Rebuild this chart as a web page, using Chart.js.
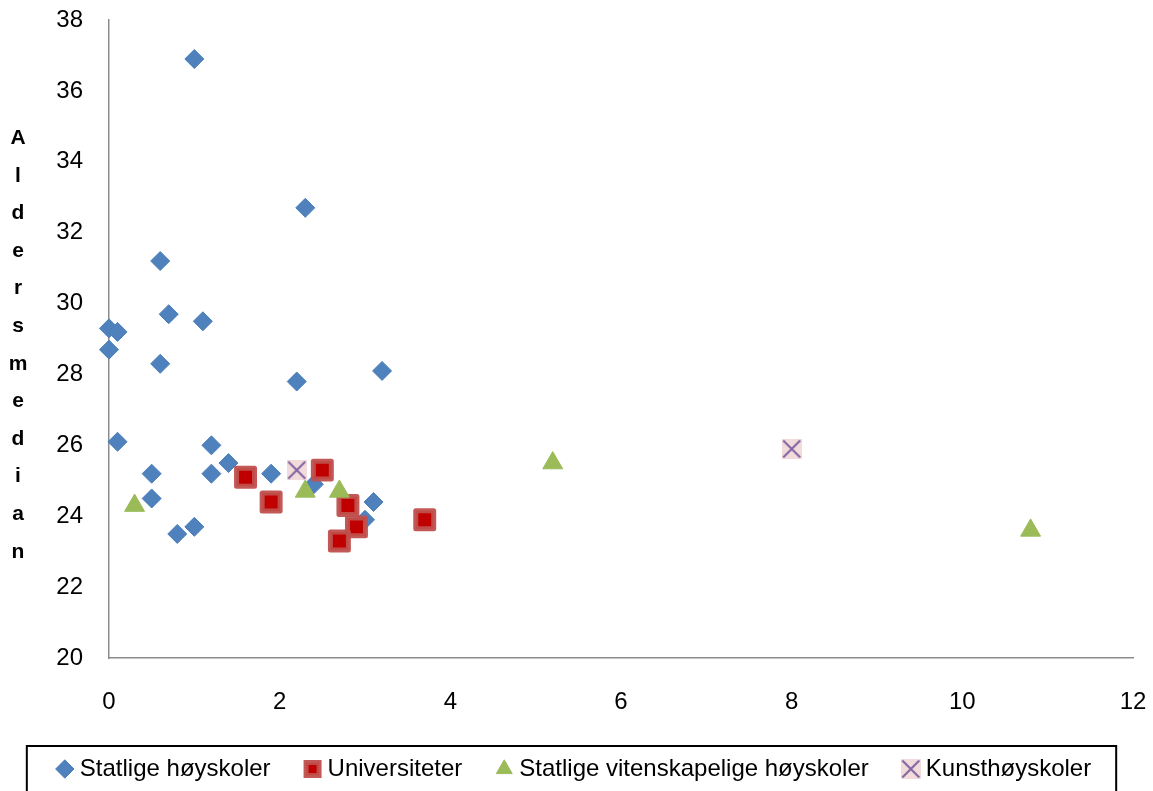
<!DOCTYPE html>
<html>
<head>
<meta charset="utf-8">
<script src="https://cdn.jsdelivr.net/npm/chart.js@4.4.0/dist/chart.umd.min.js"></script>
<style>
  html, body { margin: 0; padding: 0; background: #fff; }
</style>
</head>
<body>
<canvas id="chart" width="1153" height="791"></canvas>
<script>
// values
const seriesNames = ['Statlige høyskoler', 'Universiteter', 'Statlige vitenskapelige høyskoler', 'Kunsthøyskoler'];
const axisTitle = 'Aldersmedian';
const xTicks = [0, 2, 4, 6, 8, 10, 12];
const yTicks = [20, 22, 24, 26, 28, 30, 32, 34, 36, 38];

const statligeX = [1.0, 2.3, 0.6, 0.7, 1.1, 0.0, 0.1, 0.0, 0.6, 2.2, 3.2, 0.1, 1.2, 1.4, 0.5, 1.2, 1.9, 0.5, 0.8, 1.0, 2.4, 3.1, 3.0];
const statligeY = [36.9, 32.7, 31.2, 29.7, 29.5, 29.3, 29.2, 28.7, 28.3, 27.8, 28.1, 26.1, 26.0, 25.5, 25.2, 25.2, 25.2, 24.5, 23.5, 23.7, 24.9, 24.4, 23.9];

const universitetX = [1.6, 1.9, 2.5, 2.8, 2.9, 2.7, 3.7];
const universitetY = [25.1, 24.4, 25.3, 24.3, 23.7, 23.3, 23.9];

const vitenskapX = [0.3, 2.3, 2.7, 5.2, 10.8];
const vitenskapY = [24.3, 24.7, 24.7, 25.5, 23.6];

const kunstX = [2.2, 8.0];
const kunstY = [25.3, 25.9];

const toPoints = (xs, ys) => xs.map((x, i) => ({ x: x, y: ys[i] }));

// pink square with a purple X, like the Excel marker
const makeCross = () => {
    const c = document.createElement('canvas');
    c.width = 20;
    c.height = 20;
    const g = c.getContext('2d');
    g.fillStyle = '#f2dcdb';
    g.fillRect(0, 0, 20, 20);
    g.strokeStyle = '#8064a2';
    g.lineWidth = 2;
    g.beginPath();
    g.moveTo(1.5, 1.5); g.lineTo(18.5, 18.5);
    g.moveTo(18.5, 1.5); g.lineTo(1.5, 18.5);
    g.stroke();
    return c;
}

const FONT = 'Liberation Sans, Arial, sans-serif';
Chart.defaults.font.family = FONT;
Chart.defaults.color = '#000';

const titleAndBox = {
    id: 'titleAndBox',
    beforeDatasetsDraw(chart) { chart.ctx.lineJoin = 'round'; },
    afterDatasetsDraw(chart) { chart.ctx.lineJoin = 'miter'; },
    afterDraw(chart) {
        const ctx = chart.ctx;
        const area = chart.chartArea;
        ctx.save();
        // stacked letters of the y axis title
        ctx.font = 'bold 21px ' + FONT;
        ctx.fillStyle = '#000';
        ctx.textAlign = 'center';
        ctx.textBaseline = 'middle';
        const letters = axisTitle.split('');
        const step = 37.6;
        const mid = (area.top + area.bottom) / 2 + 6;
        letters.forEach((ch, i) => {
            ctx.fillText(ch, 18, mid + (i - (letters.length - 1) / 2) * step);
        });
        // frame around the legend
        const hb = chart.legend.legendHitBoxes;
        if (hb && hb.length) {
            const first = hb[0];
            const last = hb[hb.length - 1];
            const left = first.left - 35;
            const right = last.left + last.width + 25;
            const top = first.top - 11;
            ctx.strokeStyle = '#000';
            ctx.lineWidth = 2;
            ctx.strokeRect(left, top, right - left, 100);
        }
        ctx.restore();
    }
};

const ctx = document.getElementById('chart');
const chart = new Chart(ctx, {
    type: 'scatter',
    data: {
        datasets: [{
            label: seriesNames[0],
            data: toPoints(statligeX, statligeY),
            pointStyle: 'rectRot',
            pointRadius: 9.5,
            borderWidth: 1,
            backgroundColor: '#4f81bd',
            borderColor: '#4a7ebb',
            order: 4
        }, {
            label: seriesNames[1],
            data: toPoints(universitetX, universitetY),
            pointStyle: 'rect',
            pointRadius: 12.7,
            borderWidth: 5,
            backgroundColor: '#c00000',
            borderColor: 'rgba(192, 80, 77, 0.95)',
            borderJoinStyle: 'round',
            order: 3
        }, {
            label: seriesNames[2],
            data: toPoints(vitenskapX, vitenskapY),
            pointStyle: 'triangle',
            pointRadius: 11.5,
            borderWidth: 1,
            backgroundColor: '#9bbb59',
            borderColor: '#9bbb59',
            order: 2
        }, {
            label: seriesNames[3],
            data: toPoints(kunstX, kunstY),
            pointStyle: makeCross(),
            pointRadius: 10,
            borderWidth: 0,
            backgroundColor: '#f2dcdb',
            borderColor: '#8064a2',
            order: 1
        }]
    },
    options: {
        responsive: false,
        devicePixelRatio: 1,
        animation: false,
        layout: { padding: 0 },
        datasets: { scatter: { clip: false } },
        plugins: {
            tooltip: { enabled: false },
            legend: {
                position: 'bottom',
                labels: {
                    usePointStyle: true,
                    boxWidth: 6,
                    boxHeight: 13,
                    padding: 39,
                    color: '#000',
                    font: { size: 24 },
                    sort: (a, b) => a.datasetIndex - b.datasetIndex
                }
            }
        },
        scales: {
            x: {
                type: 'linear',
                min: xTicks[0],
                max: xTicks[xTicks.length - 1],
                afterFit: (s) => { s.height = 60; s.paddingLeft = 0; s.paddingRight = 20; },
                afterBuildTicks: (s) => { s.ticks = xTicks.map(v => ({ value: v })); },
                grid: { display: false, drawTicks: false },
                border: { display: true, color: '#8c8c8c', width: 1.5 },
                ticks: { padding: 30, font: { size: 24 }, color: '#000' }
            },
            y: {
                type: 'linear',
                min: yTicks[0],
                max: yTicks[yTicks.length - 1],
                afterFit: (s) => { s.width = 109; s.paddingTop = 20; s.paddingBottom = 0; },
                afterBuildTicks: (s) => { s.ticks = yTicks.map(v => ({ value: v })); },
                grid: { display: false, drawTicks: false },
                border: { display: true, color: '#8c8c8c', width: 1.5 },
                ticks: { padding: 26, font: { size: 24 }, color: '#000' }
            }
        }
    },
    plugins: [titleAndBox]
});
</script>
</body>
</html>
